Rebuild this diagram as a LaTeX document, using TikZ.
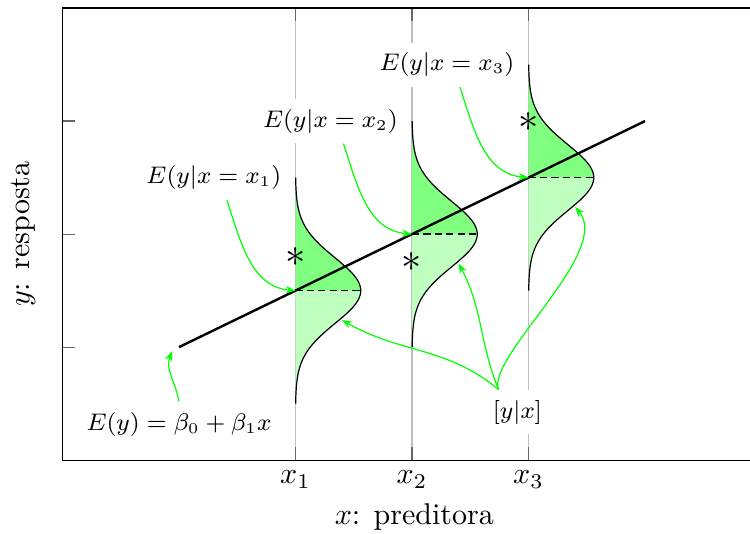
\documentclass[tikz,border=0pt]{standalone}
\usepackage{amsmath,amssymb}
\usepackage{tikz}
\usetikzlibrary{arrows.meta}
\definecolor{bellhi}{RGB}{128,255,128}
\definecolor{belllo}{RGB}{191,255,191}

\begin{document}
\begin{tikzpicture}[
  x=38.83pt,y=37.67pt,
  declare function={bell(\t)=0.56*exp(-(\t)^2/0.1682);},
  lbl/.style={fill=white,font=\fontsize{7.75}{9.3}\selectfont},
  pointer/.style={green,-{Stealth[length=3.3pt,width=2.5pt]}},
  tickmark/.style={black!60},
  datum/.style={scale=1.35,inner sep=0pt}
]
\useasboundingbox (-1.536,-0.646) rectangle (4.901,4.071);

\foreach \x in {1,2,3} {
  \draw[black!25] (\x,0) -- (\x,4);
  \draw[tickmark] (\x,0) -- (\x,0.113);
  \draw[tickmark] (\x,4) -- (\x,3.887);
  \node[anchor=north] (tx\x) at (\x,0) {$x_\x$};
}
\foreach \y in {1,2,3} {
  \draw[tickmark] (-1,\y) -- (-0.891,\y);
}
\draw (-1,0) rectangle (4.95,4);
\node[rotate=90] (ylab) at (-1.339,2) {$y$: resposta};
\node (xlab) at (2.02,-0.5) {$x$: preditora};

\foreach \xp/\my/\n in {1/1.5/1,2/2/2,3/2.5/3} {
  \fill[bellhi] (\xp,\my) -- plot[domain=0:1,samples=50,smooth] ({\xp+bell(\x)},{\my+\x}) -- cycle;
  \fill[belllo] (\xp,\my) -- plot[domain=0:-1,samples=50,smooth] ({\xp+bell(\x)},{\my+\x}) -- cycle;
  \draw[thin] plot[domain=-1:1,samples=101,smooth] ({\xp+bell(\x)},{\my+\x});
  \coordinate (c\n) at (\xp,\my);
  \coordinate (t\n) at (\xp+0.40,\my-0.26);
  \draw[black,line width=0.5pt,dash pattern=on 2.4pt off 1.4pt] (c\n) -- ++(0.56,0);
}

\coordinate (l0) at (0,1);
\coordinate (l4) at (4,3);
\draw[thick] (l0) -- (l4);

\node[datum] (s1) at (1,1.80) {$\ast$};
\node[datum] (s2) at (2,1.75) {$\ast$};
\node[datum] (s3) at (3,2.99) {$\ast$};

\foreach \xp/\my/\n in {1/1.5/1,2/2/2,3/2.5/3} {
  \node[lbl] (e\n) at (\xp-0.7,\my+1) {$E(y|x=x_\n)$};
  \draw[pointer] (e\n.-60) to[out=-72,in=175] (c\n);
}

\node[lbl] (ey) at (0,0.32) {$E(y)=\beta_0+\beta_1x$};
\coordinate (b0) at (-0.06,0.965);
\draw[pointer] (ey.north) to[out=100,in=-110] (b0);

\node[lbl] (yx) at (2.905,0.425) {$[y|x]$};
\draw[pointer] (yx.130) to[out=140,in=-30] (t1);
\draw[pointer] (yx.130) to[out=112,in=-62] (t2);
\draw[pointer] (yx.130) to[out=110,in=-50,out looseness=0.45,in looseness=0.75] (t3);
\end{tikzpicture}
\end{document}
